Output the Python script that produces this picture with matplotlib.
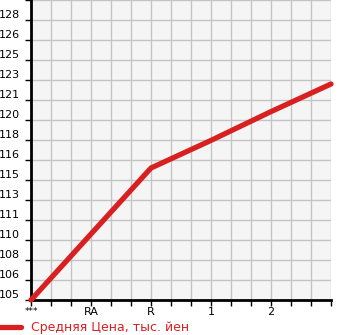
import matplotlib
matplotlib.use("Agg")
import matplotlib.pyplot as plt
import numpy as np

categories = ['***', 'RA', 'R', '1', '2', '']
prices = [105.0, 110.5, 116.0, 118.3, 120.7, 123.0]
y_ticks = [105 + i * 5 / 3 for i in range(16)]
y_labels = ['105', '106', '108', '110', '111', '113', '115', '116', '118', '120',
            '121', '123', '125', '126', '128', '']
legend_label = 'Средняя Цена, тыс. йен'

W, H = 345, 335
fig = plt.figure(figsize=(W / 100, H / 100), dpi=100)
ax = fig.add_axes([31 / W, 35 / H, 300 / W, 300 / H])
ax.set_facecolor('#f5f5f5')

x = np.arange(len(categories))
line, = ax.plot(x, prices, color='#d92020', lw=3.8, solid_capstyle='round',
                solid_joinstyle='miter', clip_on=False, zorder=5)

ax.set_xlim(0, 5)
ax.set_ylim(105, 130)

ax.set_xticks(x)
ax.set_xticklabels(categories, fontsize=8)
ax.set_xticks(np.arange(0, 5.01, 1 / 3), minor=True)
for lbl in ax.get_xticklabels():
    if lbl.get_text() == '***':
        lbl.set_fontsize(6.5)

ax.set_yticks(y_ticks)
ax.set_yticklabels(y_labels, fontsize=8, va='bottom')

ax.grid(True, which='both', color='#c4c4c4', lw=1)
ax.set_axisbelow(True)
ax.tick_params(axis='both', which='both', direction='out', length=4, width=1,
               color='black')
ax.tick_params(axis='x', pad=1)
ax.tick_params(axis='y', pad=4)

for s in ['top', 'right']:
    ax.spines[s].set_visible(False)
for s in ['left', 'bottom']:
    ax.spines[s].set_linewidth(2)
    ax.spines[s].set_color('black')

fig.legend([line], [legend_label], loc='center left',
           bbox_to_anchor=(-8 / W, 7 / H), borderpad=0, borderaxespad=0,
           frameon=False, fontsize=9, labelcolor='#d92020', handlelength=2.35,
           handletextpad=0.75)

fig.savefig('out.png', dpi=100, facecolor='white')
